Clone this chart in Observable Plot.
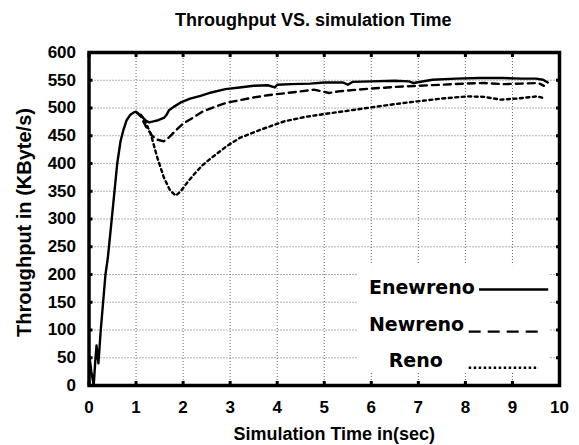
<!DOCTYPE html>
<html><head><meta charset="utf-8">
<script src="https://cdn.jsdelivr.net/npm/d3@7"></script>
<script src="https://cdn.jsdelivr.net/npm/@observablehq/plot@0.6"></script>
<style>body{margin:0;background:#fff}</style>
</head><body><div id="chart"></div>
<script>
const title = "Throughput VS. simulation Time";
const xLabel = "Simulation Time in(sec)";
const yLabel = "Throughput in (KByte/s)";
const xTicks = [0,1,2,3,4,5,6,7,8,9,10];
const yTicks = [0,50,100,150,200,250,300,350,400,450,500,550,600];
const seriesNames = ["Enewreno","Newreno","Reno"];

const enewrenoX = [0,0.01,0.05,0.1,0.13,0.16,0.2,0.25,0.3,0.35,0.4,0.46,0.53,0.6,0.67,0.73,0.8,0.88,0.95,1.0,1.05,1.12,1.2,1.28,1.37,1.47,1.59,1.65,1.7,1.8,1.95,2.15,2.37,2.6,2.9,3.2,3.5,3.8,3.95,4.0,4.3,4.7,5.0,5.4,5.5,5.6,6.0,6.5,6.8,6.9,7.3,7.8,8.3,8.8,9.2,9.5,9.65,9.75];
const enewrenoY = [0,52,25,0,40,72,40,100,150,200,230,280,340,400,440,460,478,488,492,493,490,485,478,474,476,478,482,488,496,502,510,517,522,528,534,537,540,541,537,542,543,544,546,546,542,547,548,549,548,545,551,553,554,554,553,553,551,546];

const newrenoX = [1.0,1.1,1.2,1.34,1.45,1.59,1.7,1.85,2.0,2.2,2.4,2.7,2.95,3.2,3.5,3.8,4.1,4.4,4.78,4.95,5.1,5.3,5.7,6.0,6.5,7.0,7.5,8.0,8.4,8.8,9.2,9.55,9.67];
const newrenoY = [493,485,468,450,443,440,447,460,472,482,493,503,510,514,519,523,526,529,533,530,527,530,533,535,538,540,542,544,545,543,544,545,540];

const renoX = [1.1,1.2,1.31,1.45,1.59,1.72,1.84,1.95,2.09,2.25,2.4,2.6,2.94,3.2,3.44,3.65,4.15,4.6,5.07,5.5,5.99,6.5,6.98,7.5,8.05,8.4,8.75,9.1,9.53,9.7];
const renoY = [488,475,454,411,375,352,342,350,366,382,396,410,432,446,454,461,476,484,490,495,501,507,512,517,521,520,515,517,521,517];

const toRows = (xs, ys) => xs.map((x, i) => ({x, y: ys[i]}));
const series = [
  {name: seriesNames[0], rows: toRows(enewrenoX, enewrenoY), dash: "none"},
  {name: seriesNames[1], rows: toRows(newrenoX, newrenoY), dash: "7 5"},
  {name: seriesNames[2], rows: toRows(renoX, renoY), dash: "3 3.5"}
];

// legend layout (data units)
const legendBox = {x1: 5.73, x2: 9.78, y1: 23, y2: 216};
const legendItems = [
  {name: seriesNames[0], tx: 5.95, ty: 175, lx1: 8.29, lx2: 9.76, ly: 173, dash: "none"},
  {name: seriesNames[1], tx: 5.95, ty: 110, lx1: 8.07, lx2: 9.56, ly: 97, dash: "12 7"},
  {name: seriesNames[2], tx: 6.37, ty: 45, lx1: 8.07, lx2: 9.56, ly: 32, dash: "2.5 2.5"}
];

const bold = "Liberation Sans, Arial, sans-serif";
const gridStyle = {stroke: "#666", strokeOpacity: 1, strokeDasharray: "1,2", strokeWidth: 1};

const chart = Plot.plot({
  width: 579, height: 445,
  marginLeft: 88.5, marginRight: 20, marginTop: 52, marginBottom: 60,
  style: {fontFamily: bold, fontWeight: "bold", background: "#fff", color: "#000"},
  x: {domain: [0, 10]},
  y: {domain: [0, 600]},
  marks: [
    Plot.gridX(xTicks.slice(1, -1), gridStyle),
    Plot.gridY(yTicks.slice(1, -1), gridStyle),
    Plot.rect([legendBox], {x1: "x1", x2: "x2", y1: "y1", y2: "y2", fill: "#fff"}),
    ...series.map(s => Plot.line(s.rows, {x: "x", y: "y", stroke: "#000", strokeWidth: 2.4, strokeDasharray: s.dash, clip: true})),
    ...legendItems.map(l => Plot.text([l], {x: "tx", y: "ty", text: "name", textAnchor: "start", fontSize: 19, fontWeight: "bold", fontFamily: "DejaVu Sans", fill: "#000"})),
    ...legendItems.map(l => Plot.link([l], {x1: "lx1", x2: "lx2", y1: "ly", y2: "ly", stroke: "#000", strokeWidth: 2.4, strokeDasharray: l.dash})),
    Plot.axisX(xTicks, {tickSize: 0, tickPadding: 15, fontSize: 17, fontWeight: "bold", label: null}),
    Plot.axisY(yTicks, {tickSize: 0, tickPadding: 13, fontSize: 17, fontWeight: "bold", label: null}),
    Plot.axisX(xTicks, {anchor: "bottom", tickSize: -4, strokeWidth: 3, text: null, label: null}),
    Plot.axisX(xTicks, {anchor: "top", tickSize: -4, strokeWidth: 3, text: null, label: null}),
    Plot.axisY(yTicks, {anchor: "left", tickSize: -4, strokeWidth: 3, text: null, label: null}),
    Plot.axisY(yTicks, {anchor: "right", tickSize: -4, strokeWidth: 3, text: null, label: null}),
    Plot.frame({stroke: "#000", strokeWidth: 3.5}),
    Plot.text([title], {frameAnchor: "top", dx: -11, dy: -32, fontSize: 18, fontWeight: "bold", textAnchor: "middle", lineAnchor: "middle"}),
    Plot.text([xLabel], {frameAnchor: "bottom", dx: 10, dy: 48.5, fontSize: 18, fontWeight: "bold", textAnchor: "middle", lineAnchor: "middle"}),
    Plot.text([yLabel], {frameAnchor: "left", dx: -64, dy: 3.5, rotate: -90, fontSize: 20, fontWeight: "bold", textAnchor: "middle", lineAnchor: "middle"})
  ]
});
document.getElementById("chart").append(chart);
</script>
</body></html>
